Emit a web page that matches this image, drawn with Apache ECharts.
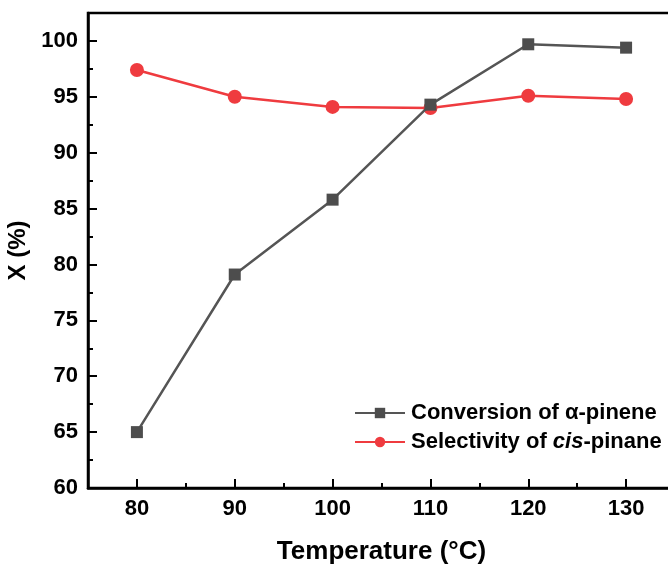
<!DOCTYPE html>
<html>
<head>
<meta charset="utf-8">
<script src="https://cdn.jsdelivr.net/npm/echarts@6/dist/echarts.min.js"></script>
<style>
html,body{margin:0;padding:0;background:#fff;}
#chart{width:668px;height:568px;}
</style>
</head>
<body>
<div id="chart"></div>
<script>
// ---- data ----
var temperatures = [80, 90, 100, 110, 120, 130];
var conversion = [65.0, 79.1, 85.8, 94.3, 99.7, 99.4];
var selectivity = [97.4, 95.0, 94.1, 94.0, 95.1, 94.8];
var xTickValues = [80, 90, 100, 110, 120, 130];
var yTickValues = [60, 65, 70, 75, 80, 85, 90, 95, 100];
var seriesNames = ['Conversion of \u03b1-pinene', 'Selectivity of cis-pinane'];

var FONT = '"Liberation Sans", Arial, sans-serif';

function pairs(xs, ys) {
  return xs.map(function (x, i) { return [x, ys[i]]; });
}

var chart = echarts.init(document.getElementById('chart'), null, {renderer: 'canvas'});

var option = {
  backgroundColor: '#ffffff',
  animation: false,
  grid: {
    left: 88, top: 13, width: 587, height: 475,
    show: true, borderColor: '#000', borderWidth: 2.5,
    containLabel: false, outerBoundsMode: 'none'
  },
  legend: {
    left: 349, top: 397, orient: 'vertical',
    itemWidth: 50, itemHeight: 13, itemGap: 7,
    data: seriesNames,
    formatter: function (name) {
      if (name.indexOf('Selectivity') === 0) {
        return '{n|Selectivity of }{i|cis}{n|-pinane}';
      }
      return '{n|' + name + '}';
    },
    textStyle: {
      padding: [0, 0, 0, 1],
      rich: {
        n: {fontFamily: FONT, fontWeight: 'bold', fontSize: 22, color: '#000'},
        i: {fontFamily: FONT, fontWeight: 'bold', fontStyle: 'italic', fontSize: 22, color: '#000'}
      }
    }
  },
  xAxis: [
    {
      type: 'value', min: 75, max: 135,
      position: 'bottom',
      name: 'Temperature (\u00b0C)', nameLocation: 'middle', nameGap: 51,
      nameTextStyle: {fontFamily: FONT, fontWeight: 'bold', fontSize: 26, color: '#000'},
      axisLine: {show: true, onZero: false, lineStyle: {color: '#000', width: 2.5}},
      axisTick: {show: true, inside: true, length: 9, customValues: xTickValues, lineStyle: {color: '#000', width: 2}},
      axisLabel: {show: true, margin: 10, customValues: xTickValues, fontFamily: FONT, fontWeight: 'bold', fontSize: 22, color: '#000'},
      splitLine: {show: false}
    },
    {
      type: 'value', min: 75, max: 135, interval: 5,
      position: 'bottom',
      axisLine: {show: false, onZero: false},
      axisTick: {show: true, inside: true, length: 5, lineStyle: {color: '#000', width: 2}},
      axisLabel: {show: false},
      splitLine: {show: false}
    }
  ],
  yAxis: [
    {
      type: 'value', min: 60, max: 102.5,
      position: 'left',
      name: 'X (%)', nameLocation: 'middle', nameGap: 54, nameRotate: 90,
      nameTextStyle: {fontFamily: FONT, fontWeight: 'bold', fontSize: 24, color: '#000'},
      axisLine: {show: true, onZero: false, lineStyle: {color: '#000', width: 2.5}},
      axisTick: {show: true, inside: true, length: 9, customValues: yTickValues, lineStyle: {color: '#000', width: 2}},
      axisLabel: {show: true, margin: 10, customValues: yTickValues, fontFamily: FONT, fontWeight: 'bold', fontSize: 22, color: '#000'},
      splitLine: {show: false}
    },
    {
      type: 'value', min: 60, max: 102.5, interval: 2.5,
      position: 'left',
      axisLine: {show: false, onZero: false},
      axisTick: {show: true, inside: true, length: 5, lineStyle: {color: '#000', width: 2}},
      axisLabel: {show: false},
      splitLine: {show: false}
    }
  ],
  series: [
    {
      name: seriesNames[0], type: 'line',
      xAxisIndex: 0, yAxisIndex: 0,
      data: pairs(temperatures, conversion),
      symbol: 'rect', symbolSize: 12,
      itemStyle: {color: '#4d4d4d'},
      lineStyle: {color: '#555555', width: 2.5},
      z: 3
    },
    {
      name: seriesNames[1], type: 'line',
      xAxisIndex: 0, yAxisIndex: 0,
      data: pairs(temperatures, selectivity),
      symbol: 'circle', symbolSize: 14,
      itemStyle: {color: '#ef3b3f'},
      lineStyle: {color: '#ef3b3f', width: 2.5},
      z: 2
    }
  ]
};
chart.setOption(option);
</script>
</body>
</html>
